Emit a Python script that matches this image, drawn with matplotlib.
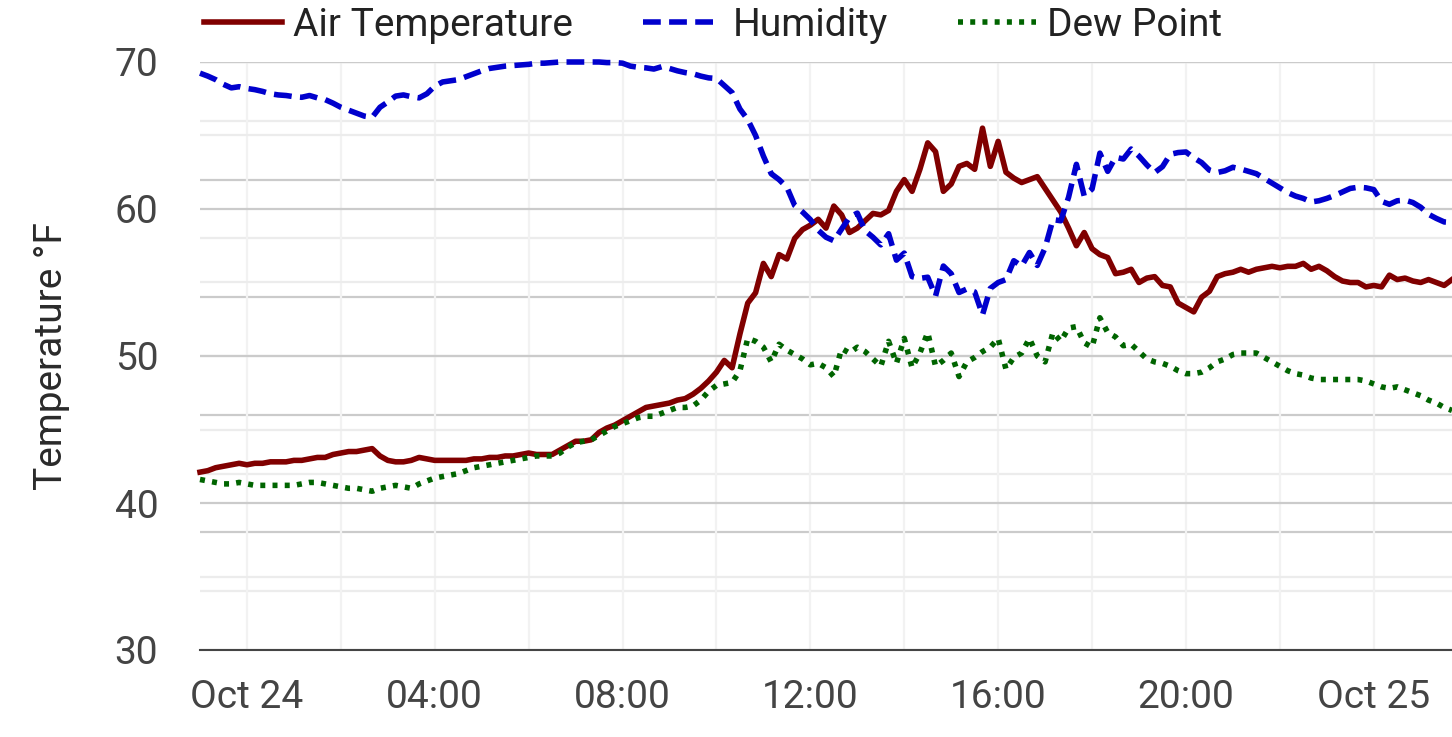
import matplotlib
matplotlib.use("Agg")
import matplotlib.pyplot as plt
import matplotlib.dates as mdates
from matplotlib.ticker import MultipleLocator, NullFormatter
import pandas as pd

plt.rcParams['font.family'] = ['Roboto', 'DejaVu Sans']

# readings every 10 minutes, starting Oct 23 23:00
start_time = '2023-10-23 23:00'

air_temp = [
    42.1, 42.2, 42.4, 42.5, 42.6, 42.7, 42.6, 42.7, 42.7, 42.8, 42.8, 42.8,
    42.9, 42.9, 43.0, 43.1, 43.1, 43.3, 43.4, 43.5, 43.5, 43.6, 43.7, 43.2,
    42.9, 42.8, 42.8, 42.9, 43.1, 43.0, 42.9, 42.9, 42.9, 42.9, 42.9, 43.0,
    43.0, 43.1, 43.1, 43.2, 43.2, 43.3, 43.4, 43.3, 43.3, 43.3, 43.6, 43.9,
    44.2, 44.2, 44.3, 44.8, 45.1, 45.3, 45.6, 45.9, 46.2, 46.5, 46.6, 46.7,
    46.8, 47.0, 47.1, 47.4, 47.8, 48.3, 48.9, 49.7, 49.2, 51.5, 53.6, 54.3,
    56.3, 55.4, 56.9, 56.6, 58.0, 58.6, 58.9, 59.3, 58.7, 60.2, 59.6, 58.4,
    58.7, 59.2, 59.7, 59.6, 59.9, 61.2, 62.0, 61.2, 62.7, 64.5, 63.9, 61.2,
    61.7, 62.9, 63.1, 62.7, 65.5, 62.9, 64.6, 62.5, 62.1, 61.8, 62.0, 62.2,
    61.4, 60.6, 59.8, 58.7, 57.5, 58.4, 57.3, 56.9, 56.7, 55.6, 55.7, 55.9,
    55.0, 55.3, 55.4, 54.8, 54.7, 53.6, 53.3, 53.0, 54.0, 54.4, 55.4, 55.6,
    55.7, 55.9, 55.7, 55.9, 56.0, 56.1, 56.0, 56.1, 56.1, 56.3, 55.9, 56.1,
    55.8, 55.4, 55.1, 55.0, 55.0, 54.7, 54.8, 54.7, 55.5, 55.2, 55.3, 55.1,
    55.0, 55.2, 55.0, 54.8, 55.2,
]

humidity = [
    98.1, 97.6, 97.0, 96.2, 95.6, 95.8, 95.5, 95.3, 95.0, 94.6, 94.4, 94.3,
    94.1, 94.0, 94.3, 93.9, 93.6, 93.0, 92.3, 91.8, 91.3, 90.8, 90.6, 92.3,
    93.2, 94.2, 94.4, 94.1, 93.9, 94.6, 95.9, 96.6, 96.8, 97.0, 97.5, 98.0,
    98.5, 98.9, 99.1, 99.3, 99.4, 99.5, 99.6, 99.8, 99.8, 99.9, 100.0, 100.0,
    100.0, 100.0, 100.0, 100.0, 99.9, 99.9, 99.8, 99.3, 99.1, 99.0, 98.8, 99.2,
    98.9, 98.5, 98.2, 98.0, 97.6, 97.3, 97.2, 96.0, 94.8, 92.0, 90.2, 87.5,
    84.0, 81.0, 80.0, 78.7, 75.6, 74.5, 73.2, 71.4, 70.2, 69.6, 71.6, 73.6,
    74.3, 71.3, 70.2, 68.9, 70.8, 66.3, 67.5, 63.5, 63.2, 63.4, 60.2, 65.3,
    64.0, 60.8, 61.4, 60.9, 57.0, 61.5, 62.5, 63.0, 66.2, 65.3, 67.6, 65.4,
    68.4, 73.2, 73.0, 77.0, 82.6, 77.2, 78.4, 84.5, 81.4, 83.8, 83.5, 85.2,
    84.0, 82.5, 81.2, 82.2, 84.3, 84.6, 84.7, 83.7, 82.9, 81.6, 81.2, 81.5,
    82.1, 81.8, 81.4, 81.0, 80.2, 79.4, 78.6, 77.8, 77.2, 76.8, 76.2, 76.4,
    76.8, 77.3, 77.9, 78.5, 78.7, 78.6, 78.3, 76.3, 75.8, 76.4, 76.5, 76.1,
    75.3, 74.1, 73.4, 72.8, 72.7,
]

dew_point = [
    41.6, 41.5, 41.4, 41.3, 41.3, 41.4, 41.3, 41.2, 41.2, 41.2, 41.2, 41.2,
    41.2, 41.3, 41.4, 41.4, 41.3, 41.2, 41.1, 41.0, 41.0, 40.9, 40.8, 41.0,
    41.1, 41.2, 41.1, 41.0, 41.3, 41.5, 41.7, 41.8, 41.9, 42.0, 42.2, 42.4,
    42.5, 42.6, 42.7, 42.8, 42.9, 43.0, 43.1, 43.2, 43.2, 43.2, 43.4, 43.8,
    44.1, 44.2, 44.3, 44.6, 44.9, 45.2, 45.4, 45.6, 45.8, 45.9, 45.9, 46.1,
    46.3, 46.5, 46.5, 46.6, 47.0, 47.6, 48.0, 48.1, 48.2, 49.0, 51.2, 51.0,
    50.6, 49.6, 50.8, 50.4, 50.1, 49.8, 49.4, 49.5, 49.2, 48.6, 50.5, 50.2,
    50.6, 50.3, 49.8, 49.3, 51.0, 49.5, 51.2, 49.2, 50.2, 51.6, 49.3, 49.7,
    50.2, 48.6, 49.6, 49.9, 50.3, 50.6, 51.2, 49.1, 49.9, 50.2, 51.2, 50.0,
    49.6, 51.6, 51.0, 51.9, 52.0, 50.9, 50.6, 52.6, 51.6, 51.3, 50.7, 50.8,
    50.3, 49.8, 49.6, 49.5, 49.3, 49.0, 48.8, 48.8, 48.9, 49.2, 49.6, 49.8,
    50.1, 50.2, 50.2, 50.2, 49.9, 49.6, 49.3, 49.0, 48.8, 48.7, 48.5, 48.4,
    48.4, 48.4, 48.4, 48.4, 48.4, 48.3, 48.1, 47.9, 47.8, 47.9, 47.7, 47.5,
    47.3, 47.0, 46.8, 46.5, 46.3,
]

times = pd.date_range(start_time, periods=len(air_temp), freq='10min')

temp_ticks = [30, 40, 50, 60, 70]
hum_ticks = [0, 20, 40, 60, 80, 100]

W, H = 1452, 737
fig = plt.figure(figsize=(W / 100, H / 100), dpi=100)
ax = fig.add_axes([200 / W, 87 / H, 1252 / W, 588 / H])
ax2 = ax.twinx()

major_grid = '#cbcbcb'
minor_grid = '#ececec'
lw = 4.0

# temperature axis
ax.set_ylim(temp_ticks[0], temp_ticks[-1])
ax.set_yticks(temp_ticks)
ax.yaxis.set_minor_locator(MultipleLocator(5))
ax.grid(axis='y', which='major', color=major_grid, lw=1.6, zorder=0)
ax.grid(axis='y', which='minor', color=minor_grid, lw=1.6, zorder=0)

# humidity axis (its labels fall outside the picture)
ax2.set_ylim(hum_ticks[0], hum_ticks[-1])
ax2.set_yticks(hum_ticks)
ax2.yaxis.set_minor_locator(MultipleLocator(10))
ax2.yaxis.set_major_formatter(NullFormatter())
ax2.tick_params(axis='y', which='both', length=0)
hum_major = [t for t in hum_ticks if t not in (hum_ticks[0], hum_ticks[-1])]
hum_minor = list(range(10, 100, 20))
ax.hlines(hum_major, 0, 1, transform=ax2.get_yaxis_transform(),
          color=major_grid, lw=1.6, zorder=0)
ax.hlines(hum_minor, 0, 1, transform=ax2.get_yaxis_transform(),
          color=minor_grid, lw=1.6, zorder=0)
ax.axhline(temp_ticks[-1], color=major_grid, lw=1.6, zorder=0)

# x axis
ax.xaxis.set_major_locator(mdates.HourLocator(byhour=range(0, 24, 4)))
ax.xaxis.set_minor_locator(mdates.HourLocator(byhour=range(0, 24, 2)))


def fmt_time(x, pos=None):
    d = mdates.num2date(x)
    if d.hour == 0:
        return d.strftime('%b %d')
    return d.strftime('%H:%M')


ax.xaxis.set_major_formatter(plt.FuncFormatter(fmt_time))
ax.grid(axis='x', which='both', color='#f2f2f2', lw=1.6, zorder=0)
ax.set_xlim(times[0], times[-1])

l1, = ax.plot(times, air_temp, color='#800000', lw=lw, label='Air Temperature',
              zorder=3, clip_on=False)
l3, = ax.plot(times, dew_point, color='#006400', lw=lw, label='Dew Point',
              linestyle=(0, (0.9, 1.3)), zorder=3, clip_on=False)
l2, = ax2.plot(times, humidity, color='#0000cd', lw=lw, label='Humidity',
               linestyle=(0, (3.2, 1.5)), zorder=3, clip_on=False)

for a in (ax, ax2):
    for s in a.spines.values():
        s.set_visible(False)
ax.spines['bottom'].set_visible(True)
ax.spines['bottom'].set_color('#444444')
ax.spines['bottom'].set_linewidth(1.5)

ax.tick_params(axis='both', which='both', length=0, labelsize=28,
               labelcolor='#444444')
ax.tick_params(axis='y', pad=30)
ax.tick_params(axis='x', pad=21)

fig.text(51 / W, 1 - 356 / H, 'Temperature °F', rotation=90, ha='center',
         va='center', fontsize=28, color='#2a2a2a')

fig.legend(handles=[l1, l2, l3], loc='upper left', ncol=3, frameon=False,
           bbox_to_anchor=(200 / W, 1 - 3 / H), borderaxespad=0, borderpad=0.1,
           fontsize=28, handlelength=2.0, handletextpad=0.3,
           columnspacing=1.8, labelcolor='#222222')

fig.savefig('out.png', dpi=100)
